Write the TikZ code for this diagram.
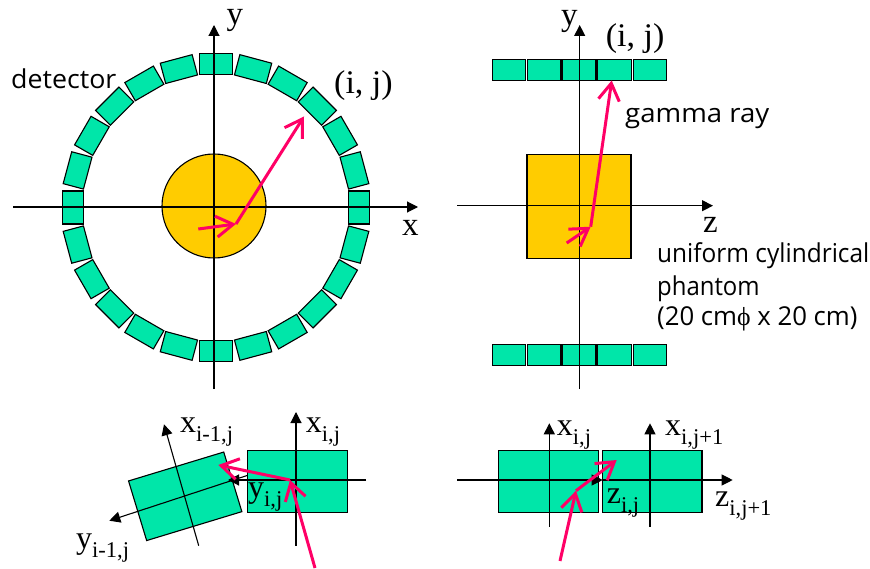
\documentclass[tikz,border=0pt]{standalone}
\usepackage{fontspec}
\setmainfont{Liberation Serif}
\newfontfamily\labelsans{Open Sans}
\usetikzlibrary{arrows.meta}
\definecolor{detgreen}{HTML}{00E6A9}
\definecolor{phantomgold}{HTML}{FFCC00}
\definecolor{raypink}{HTML}{FF0066}
\newcommand{\axlabel}[2]{{\fontsize{32}{36}\selectfont #1}\raisebox{-9pt}{\fontsize{22.5}{26}\selectfont #2}}
\newcommand{\squeeze}[2]{\scalebox{#1}[1]{#2}}
\tikzset{
  detbox/.style={draw=black,fill=detgreen,line width=1.1pt,rectangle,inner sep=0pt,outer sep=0pt},
  ringdet/.style={detbox,minimum width=33pt,minimum height=21pt},
  rowdet/.style={detbox,minimum width=33.5pt,minimum height=21pt},
  smalldet/.style={detbox,minimum width=99.5pt,minimum height=62.3pt},
  phantom/.style={draw=black,fill=phantomgold,line width=1.1pt,inner sep=0pt,outer sep=0pt},
  axis/.style={draw=black,line width=1.1pt,-{Triangle[length=11pt,width=11pt]}},
  ray/.style={draw=raypink,line width=3pt,-{Straight Barb[length=17pt,width=21pt,line width=3pt]}},
  serif/.style={anchor=base west,inner sep=0pt,font=\fontsize{33}{36}\selectfont},
  sans/.style={anchor=base west,inner sep=0pt,font=\labelsans\fontsize{26}{30}\selectfont},
}
\begin{document}
\begin{tikzpicture}[x=1pt,y=-1pt]
\useasboundingbox (0,0) rectangle (870,569);
% ---- ring view
\foreach \a in {0,15,...,345}
  \node[ringdet,rotate={90-\a}] (r\a) at ({216+143.3*cos(\a)},{207.5+143.3*sin(\a)}) {};
\node[phantom,circle,minimum size=104pt] (disc) at (214,206) {};
\coordinate (xa0) at (13,207);   \coordinate (xa1) at (418,207);
\coordinate (ya0) at (214,389);  \coordinate (ya1) at (214,25);
\draw[axis] (xa0) -- (xa1);
\draw[axis] (ya0) -- (ya1);
\coordinate (ra) at (198.3,229); \coordinate (rb) at (236,224); \coordinate (rc) at (304,116.5);
\draw[ray] (ra) -- (rb);
\draw[ray] (rb) -- (rc);
\node[serif] (ly) at (226.5,25) {y};
\node[serif] (lx) at (402,236) {x};
\node[serif] (lij) at (334,94) {\squeeze{1.03}{(i, j)}};
\node[sans] (ldet) at (11,89) {\squeeze{1.03}{detector}};
% ---- side view
\foreach \i/\x in {1/509,2/544.2,3/579.2,4/614.5,5/649.8} {
  \node[rowdet] (t\i) at (\x,69.8) {};
  \node[rowdet] (b\i) at (\x,354.8) {};
}
\node[phantom,rectangle,minimum width=104pt,minimum height=103.7pt] (block) at (579,206.8) {};
\coordinate (za0) at (457,205.7); \coordinate (za1) at (713,205.7);
\coordinate (yb0) at (579.7,389); \coordinate (yb1) at (579.7,25);
\draw[axis] (za0) -- (za1);
\draw[axis] (yb0) -- (yb1);
\coordinate (sa) at (566.7,243); \coordinate (sb) at (590.7,226.7); \coordinate (sc) at (611.7,80.5);
\draw[ray] (sa) -- (sb);
\draw[ray] (sb) -- (sc);
\node[serif] (sy) at (561,26) {y};
\node[serif] (sij) at (605.7,47) {\squeeze{1.03}{(i, j)}};
\node[serif] (sz) at (703,233) {z};
\node[sans] (lgamma) at (625,123) {\squeeze{1.06}{gamma ray}};
\node[sans] (lu1) at (657,263) {\squeeze{0.94}{uniform cylindrical}};
\node[sans] (lu2) at (657,295) {\squeeze{0.92}{phantom}};
\node[sans] (lu3) at (657,326) {\squeeze{0.99}{(20 cm{\fontspec{Liberation Serif}ϕ} x 20 cm)}};
% ---- adjacent ring detectors
\node[smalldet,rotate=16.9] (dl) at (185.2,496.3) {};
\node[smalldet,minimum width=100pt] (dr) at (297.3,481.2) {};
\coordinate (a0) at (198.7,545.7); \coordinate (a1) at (164,424.3);
\coordinate (a2) at (247.7,475.3); \coordinate (a3) at (109.3,520.7);
\coordinate (a4) at (296,545.7);   \coordinate (a5) at (296,412);
\coordinate (a6) at (366,480);     \coordinate (a7) at (228,480);
\draw[axis] (a0) -- (a1);
\draw[axis] (a2) -- (a3);
\draw[axis] (a4) -- (a5);
\draw[axis] (a6) -- (a7);
\coordinate (ua) at (315,568); \coordinate (ub) at (290,480); \coordinate (uc) at (218.3,465);
\draw[ray] (ua) -- (ub);
\draw[ray] (ub) -- (uc);
\node[serif] (l1) at (180,432) {\axlabel{x}{i-1,j}};
\node[serif] (l2) at (305.7,432) {\axlabel{x}{i,j}};
\node[serif] (l3) at (248,497) {\axlabel{y}{i,j}};
\node[serif] (l4) at (76,548) {\axlabel{y}{i-1,j}};
% ---- adjacent axial detectors
\node[smalldet] (da) at (548.4,481.2) {};
\node[smalldet] (db) at (652.2,481.2) {};
\coordinate (c0) at (549.3,526.7); \coordinate (c1) at (549.3,423.3);
\coordinate (c2) at (650,526.7);   \coordinate (c3) at (650,423.3);
\coordinate (c4) at (457.3,480);   \coordinate (c5) at (602.7,480);
\coordinate (c6) at (732.7,480);
\draw[axis] (c0) -- (c1);
\draw[axis] (c2) -- (c3);
\draw[axis] (c4) -- (c5);
\draw[axis] (c5) -- (c6);
\coordinate (va) at (560,561); \coordinate (vb) at (576,490.7); \coordinate (vc) at (616.7,460);
\draw[ray] (va) -- (vb);
\draw[ray] (vb) -- (vc);
\node[serif] (l5) at (556.7,435) {\axlabel{x}{i,j}};
\node[serif] (l6) at (665,435) {\axlabel{x}{i,j+1}};
\node[serif] (l7) at (606.7,503) {\axlabel{z}{i,j}};
\node[serif] (l8) at (715,506) {\axlabel{z}{i,j+1}};
\end{tikzpicture}
\end{document}
